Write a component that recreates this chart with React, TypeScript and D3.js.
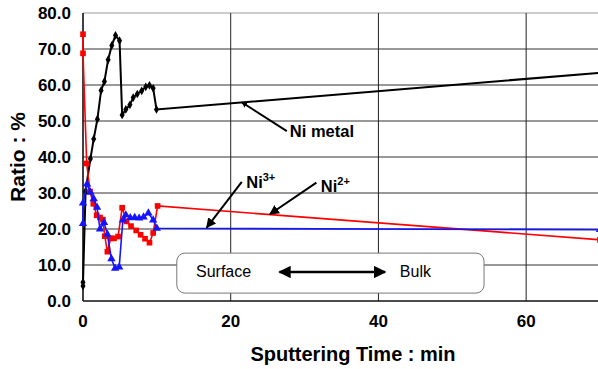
import React from "react";
import * as d3 from "d3";

// sputtering time (min) and ratio (%)
const metalT = [0, 0, 0.35, 1.0, 1.45, 1.95, 2.45, 2.9, 3.4, 3.9, 4.4, 4.95, 5.3, 5.8, 6.35, 6.8, 7.35, 7.95, 8.5, 9.0, 9.5, 9.95, 70];
const metalV = [4.2, 5.2, 30.5, 39.5, 45.0, 50.5, 58.5, 61.0, 67.0, 71.0, 73.8, 72.3, 51.7, 53.2, 54.5, 56.5, 57.5, 58.4, 59.5, 59.9, 59.1, 53.2, 63.4];

const ni2T = [0, 0, 0.5, 0.95, 1.4, 1.85, 2.3, 2.7, 2.95, 3.3, 3.75, 4.2, 4.75, 5.3, 5.9, 6.5, 7.2, 7.8, 8.4, 9.0, 9.5, 10.1, 70];
const ni2V = [74.1, 68.8, 38.2, 30.4, 27.0, 23.8, 23.2, 22.6, 18.0, 13.7, 17.4, 17.4, 17.9, 25.9, 22.1, 20.8, 19.6, 18.4, 17.3, 16.2, 18.9, 26.4, 17.0];

const ni3T = [0, 0, 0.55, 1.0, 1.45, 1.9, 2.3, 2.85, 3.3, 3.85, 4.35, 4.9, 5.4, 5.8, 6.4, 7.0, 7.6, 8.2, 8.85, 9.5, 10.0, 70];
const ni3V = [21.5, 27.2, 32.5, 30.2, 28.4, 26.0, 20.0, 21.8, 18.5, 11.7, 9.1, 9.4, 22.5, 23.9, 23.1, 23.2, 23.0, 23.3, 24.4, 22.5, 20.2, 19.8];

const yTicks = [0, 10, 20, 30, 40, 50, 60, 70, 80];
const xTicks = [0, 20, 40, 60];

const W = 598;
const H = 369;
const FONT = "Arial, 'Liberation Sans', Helvetica, sans-serif";

const x = d3.scaleLinear().domain([0, 70]).range([83, 600]);
const y = d3.scaleLinear().domain([0, 80]).range([301, 13]);

const zip = (t: number[], v: number[]) => t.map((d, i) => [d, v[i]] as [number, number]);

const line = d3.line<[number, number]>().x((d) => x(d[0])).y((d) => y(d[1]));

const series = [
    { pts: zip(metalT, metalV), color: "#000", width: 2, sym: d3.symbolDiamond, size: 22 },
    { pts: zip(ni2T, ni2V), color: "#f00", width: 1.6, sym: d3.symbolSquare, size: 32 },
    { pts: zip(ni3T, ni3V), color: "#1414ff", width: 1.6, sym: d3.symbolTriangle, size: 30 },
];

export default function App ()
{
    return (
        <svg width={ W } height={ H } style={ { position: "absolute", left: 0, top: 0, background: "#fff" } } fontFamily={ FONT }>
            <defs>
                <marker id="ah" viewBox="0 0 10 10" refX="9" refY="5" markerWidth="5" markerHeight="5" orient="auto-start-reverse">
                    <path d="M0,0 L10,5 L0,10 z" fill="#000" />
                </marker>
                <marker id="ahs" viewBox="0 0 10 10" refX="9" refY="5" markerWidth="3" markerHeight="3" orient="auto">
                    <path d="M0,0 L10,5 L0,10 z" fill="#000" />
                </marker>
            </defs>

            {/* grid */ }
            { yTicks.map((t) => (
                <line key={ "gy" + t } x1={ x(0) } x2={ W } y1={ y(t) } y2={ y(t) }
                    stroke={ t === 80 ? "#999" : "#333" } strokeWidth={ 1 } />
            )) }
            { xTicks.filter((t) => t > 0).map((t) => (
                <line key={ "gx" + t } x1={ x(t) } x2={ x(t) } y1={ y(0) } y2={ y(80) } stroke="#222" strokeWidth={ 1 } />
            )) }
            <line x1={ x(0) } x2={ x(0) } y1={ y(0) } y2={ y(80) } stroke="#000" strokeWidth={ 1.5 } />
            <line x1={ x(0) } x2={ W } y1={ y(0) } y2={ y(0) } stroke="#000" strokeWidth={ 1.2 } />

            {/* axis labels */ }
            { yTicks.map((t) => (
                <text key={ "ly" + t } x={ 71 } y={ y(t) } dy="0.36em" textAnchor="end" fontSize={ 17 } fontWeight="bold">
                    { t.toFixed(1) }
                </text>
            )) }
            { xTicks.map((t) => (
                <text key={ "lx" + t } x={ x(t) } y={ 327 } textAnchor="middle" fontSize={ 17 } fontWeight="bold">{ t }</text>
            )) }
            <text x={ 353 } y={ 361 } textAnchor="middle" fontSize={ 20 } fontWeight="bold">Sputtering Time : min</text>
            <text transform={ `translate(25,${ (y(0) + y(80)) / 2 }) rotate(-90)` } textAnchor="middle" fontSize={ 21 } fontWeight="bold">Ratio : %</text>

            {/* Surface / Bulk box */ }
            <rect x={ x(12.7) } y={ y(13.3) } width={ x(54.3) - x(12.7) } height={ y(2.2) - y(13.3) } rx={ 8 }
                fill="#fff" stroke="#777" strokeWidth={ 1 } />
            <text x={ x(15.3) } y={ y(6.7) } fontSize={ 16 }>Surface</text>
            <text x={ x(42.9) } y={ y(6.7) } fontSize={ 16 }>Bulk</text>
            <line x1={ x(26.6) } x2={ x(40.9) } y1={ y(8.05) } y2={ y(8.05) } stroke="#000" strokeWidth={ 2.5 }
                markerStart="url(#ah)" markerEnd="url(#ah)" />

            {/* series */ }
            { series.map((s, i) => (
                <g key={ i }>
                    <path d={ line(s.pts) || "" } fill="none" stroke={ s.color } strokeWidth={ s.width } />
                    { s.pts.map((p, j) => (
                        <path key={ j } transform={ `translate(${ x(p[0]) },${ y(p[1]) })` }
                            d={ d3.symbol().type(s.sym).size(s.size)() || "" } fill={ s.color } />
                    )) }
                </g>
            )) }

            {/* annotations */ }
            <line x1={ x(27.6) } y1={ y(47.2) } x2={ x(21.5) } y2={ y(55.2) } stroke="#000" strokeWidth={ 2 } markerEnd="url(#ahs)" />
            <text x={ x(28.0) } y={ y(45.6) } fontSize={ 16.5 } fontWeight="bold">Ni metal</text>

            <line x1={ x(21.5) } y1={ y(33.1) } x2={ x(16.75) } y2={ y(20.4) } stroke="#000" strokeWidth={ 2 } markerEnd="url(#ah)" />
            <text x={ x(22.1) } y={ y(31.4) } fontSize={ 16.5 } fontWeight="bold">
                Ni<tspan fontSize={ 11 } dy={ -7 }>3+</tspan>
            </text>

            <line x1={ x(31.6) } y1={ y(32.9) } x2={ x(25.3) } y2={ y(24.1) } stroke="#000" strokeWidth={ 2 } markerEnd="url(#ah)" />
            <text x={ x(32.2) } y={ y(30.3) } fontSize={ 16.5 } fontWeight="bold">
                Ni<tspan fontSize={ 11 } dy={ -7 }>2+</tspan>
            </text>
        </svg>
    );
}
